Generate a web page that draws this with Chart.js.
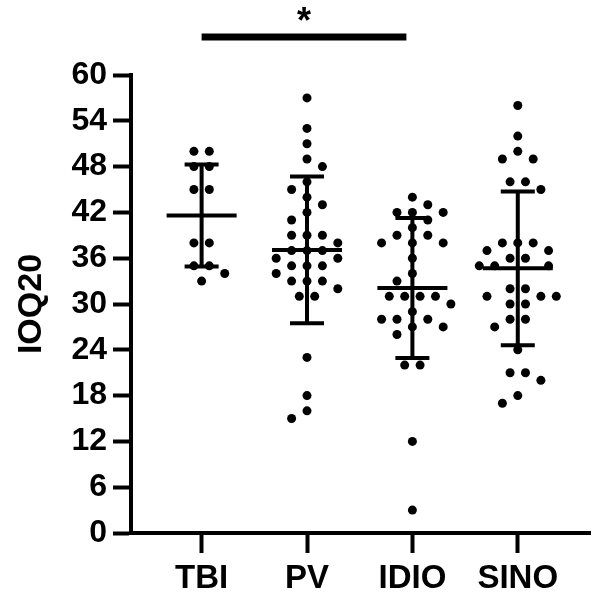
<!DOCTYPE html>
<html>
<head>
<meta charset="utf-8">
<script src="https://cdn.jsdelivr.net/npm/chart.js@4.4.1/dist/chart.umd.min.js"></script>
<style>
  html, body { margin: 0; padding: 0; background: #fff; }
  #wrap { width: 595px; height: 596px; }
</style>
</head>
<body>
<div id="wrap"><canvas id="dots"></canvas></div>
<script>
// values
var groups = ['TBI', 'PV', 'IDIO', 'SINO'];
var tbi = [50, 50, 48, 48, 45, 45, 38, 38, 35, 35, 34, 33];
var pv = [57, 53, 51, 49, 48, 46, 45, 44, 43, 42, 41, 39, 39, 39, 38, 37, 37, 37,
          36, 36, 35, 35, 35, 34, 33, 33, 33, 32, 31, 31, 23, 18, 16, 15];
var idio = [44, 43, 42, 42, 42, 41, 40, 39, 39, 38, 38, 38, 36, 34, 33, 31, 31, 31, 31,
            30, 29, 28, 28, 28, 27, 27, 26, 22, 22, 12, 3];
var sino = [56, 52, 50, 49, 49, 46, 46, 45, 38, 38, 38, 37, 37, 36, 36, 35, 35, 35,
            32, 32, 31, 31, 31, 30, 30, 28, 28, 27, 24, 21, 21, 20, 18, 17];
var yTicks = [0, 6, 12, 18, 24, 30, 36, 42, 48, 54, 60];
var sigPair = [0, 2];
var sigLabel = '*';

var allGroups = [tbi, pv, idio, sino];
var FONT = '"Liberation Sans", Arial, sans-serif';

function mean(a) {
    var s = 0;
    for (var i = 0; i < a.length; i++) s += a[i];
    return s / a.length;
}
function sd(a) {
    var m = mean(a), s = 0;
    for (var i = 0; i < a.length; i++) s += (a[i] - m) * (a[i] - m);
    return Math.sqrt(s / (a.length - 1));
}

// spread equal values sideways, row by row, so dots do not overlap
function swarm(chart) {
    var xs = chart.scales.x, ys = chart.scales.y;
    var unit = xs.getPixelForValue(2) - xs.getPixelForValue(1);
    var col = 15.4, minDist = 14.5;
    var slots = [];
    for (var k = -8; k <= 8; k++) slots.push(k / 2);

    chart.data.datasets.forEach(function(ds, gi) {
        var vals = allGroups[gi].slice().sort(function(a, b) { return b - a; });
        var rows = [];
        vals.forEach(function(v) {
            if (rows.length && rows[rows.length - 1].v === v) rows[rows.length - 1].n++;
            else rows.push({v: v, n: 1});
        });
        var placed = [];
        var pts = [];
        var side = -1;
        rows.forEach(function(row) {
            var py = ys.getPixelForValue(row.v);
            var free = slots.filter(function(o) {
                for (var p = 0; p < placed.length; p++) {
                    var dx = placed[p][0] - o * col, dy = placed[p][1] - py;
                    if (Math.sqrt(dx * dx + dy * dy) < minDist) return false;
                }
                return true;
            });
            var best = null, bestCost = Infinity;
            function pick(start, chosen) {
                if (chosen.length === row.n) {
                    var mx = 0, sa = 0, s = 0, half = 0;
                    chosen.forEach(function(o) {
                        mx = Math.max(mx, Math.abs(o)); sa += Math.abs(o); s += o;
                        if (o % 1 !== 0) half++;
                    });
                    var cost = mx * 10 + sa + Math.abs(s) * 0.5 + (row.n % 2 ? half * 0.3 : 0) + s * side * 0.01;
                    if (cost < bestCost) { bestCost = cost; best = chosen.slice(); }
                    return;
                }
                for (var i = start; i < free.length; i++) {
                    if (chosen.length && free[i] - chosen[chosen.length - 1] < 1) continue;
                    chosen.push(free[i]);
                    pick(i + 1, chosen);
                    chosen.pop();
                }
            }
            pick(0, []);
            if (!best) best = [];
            var sum = 0;
            best.forEach(function(o) {
                sum += o;
                placed.push([o * col, py]);
                pts.push({x: gi + 1 + o * col / unit, y: row.v});
            });
            if (sum !== 0) side = -side;
        });
        ds.data = pts;
    });
}

var errorBars = {
    id: 'errorBars',
    afterDatasetsDraw: function(chart) {
        var ctx = chart.ctx, xs = chart.scales.x, ys = chart.scales.y;
        ctx.save();
        ctx.strokeStyle = '#000';
        ctx.lineWidth = 4;
        allGroups.forEach(function(g, i) {
            var cx = xs.getPixelForValue(i + 1);
            var m = mean(g), s = sd(g);
            var yM = ys.getPixelForValue(m);
            var yHi = ys.getPixelForValue(m + s);
            var yLo = ys.getPixelForValue(m - s);
            ctx.beginPath();
            ctx.moveTo(cx - 35, yM); ctx.lineTo(cx + 35, yM);
            ctx.moveTo(cx, yHi); ctx.lineTo(cx, yLo);
            ctx.moveTo(cx - 17, yHi); ctx.lineTo(cx + 17, yHi);
            ctx.moveTo(cx - 17, yLo); ctx.lineTo(cx + 17, yLo);
            ctx.stroke();
        });
        ctx.restore();
    }
};

var sigBar = {
    id: 'sigBar',
    afterDraw: function(chart) {
        var ctx = chart.ctx, xs = chart.scales.x;
        var x1 = xs.getPixelForValue(sigPair[0] + 1);
        var x2 = xs.getPixelForValue(sigPair[1] + 1) - 6;
        var y = chart.chartArea.top - 38;
        ctx.save();
        ctx.fillStyle = '#000';
        ctx.fillRect(x1, y - 3.5, x2 - x1, 7);
        ctx.font = 'bold 36px ' + FONT;
        ctx.textAlign = 'center';
        ctx.textBaseline = 'middle';
        ctx.fillText(sigLabel, (x1 + x2) / 2, y - 14);
        ctx.restore();
    }
};

var datasets = allGroups.map(function(g, i) {
    return {
        label: groups[i],
        data: g.map(function(v) { return {x: i + 1, y: v}; }),
        backgroundColor: '#000',
        borderWidth: 0,
        pointRadius: 4.5,
        pointHoverRadius: 4.5
    };
});

var chart = new Chart(document.getElementById('dots'), {
    type: 'scatter',
    data: {datasets: datasets},
    options: {
        responsive: true,
        maintainAspectRatio: false,
        animation: false,
        layout: {padding: {top: 75, left: 0, right: 3, bottom: 0}},
        plugins: {
            legend: {display: false},
            tooltip: {enabled: false}
        },
        scales: {
            x: {
                type: 'linear',
                min: 0.33,
                max: 4.69,
                afterBuildTicks: function(axis) {
                    axis.ticks = groups.map(function(g, i) { return {value: i + 1}; });
                },
                afterFit: function(axis) { axis.height = 63; },
                ticks: {
                    color: '#000',
                    font: {family: FONT, size: 33, weight: 'bold'},
                    padding: 6,
                    maxRotation: 0,
                    callback: function(v) { return groups[v - 1]; }
                },
                grid: {drawOnChartArea: false, tickLength: 20, tickWidth: 4, color: '#000'},
                border: {display: true, width: 4, color: '#000'}
            },
            y: {
                min: 0,
                max: 60,
                afterBuildTicks: function(axis) {
                    axis.ticks = yTicks.map(function(v) { return {value: v}; });
                },
                afterFit: function(axis) { axis.width = 131; },
                ticks: {
                    color: '#000',
                    font: {family: FONT, size: 32, weight: 'bold'},
                    padding: 6
                },
                grid: {drawOnChartArea: false, tickLength: 18, tickWidth: 4, color: '#000'},
                border: {display: true, width: 4, color: '#000'},
                title: {
                    display: true,
                    text: 'IOQ20',
                    color: '#000',
                    font: {family: FONT, size: 34, weight: 'bold'},
                    padding: {top: 11, bottom: 0}
                }
            }
        }
    },
    plugins: [errorBars, sigBar]
});

swarm(chart);
chart.update('none');
</script>
</body>
</html>
